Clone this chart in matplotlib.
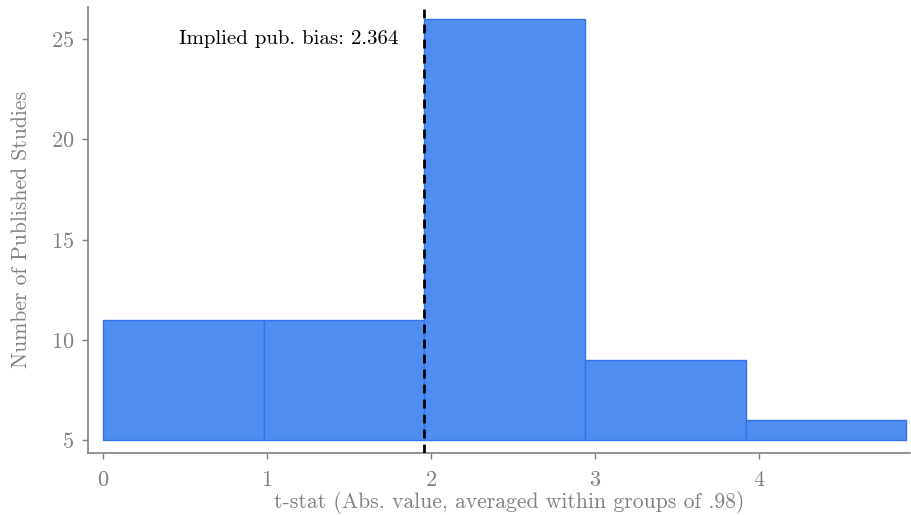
import matplotlib
matplotlib.use("Agg")
import matplotlib.pyplot as plt
import numpy as np

plt.rcParams['font.family'] = 'serif'
plt.rcParams['font.serif'] = ['cmr10', 'DejaVu Serif']
plt.rcParams['axes.formatter.use_mathtext'] = True
plt.rcParams['mathtext.fontset'] = 'cm'

bin_width = 0.98
bin_starts = [0.0, 0.98, 1.96, 2.94, 3.92]
counts = [11, 11, 26, 9, 6]
base = 5
threshold = 1.96
annotation = "Implied pub. bias: 2.364"
xlabel = "t-stat (Abs. value, averaged within groups of .98)"
ylabel = "Number of Published Studies"
xticks = [0, 1, 2, 3, 4]
yticks = [5, 10, 15, 20, 25]

gray = '#808080'
fig = plt.figure(figsize=(9.11, 5.15), dpi=100)
ax = fig.add_axes([0.0966, 0.121, 0.902, 0.865])

heights = [c - base for c in counts]
ax.bar(bin_starts, heights, width=bin_width, bottom=base, align='edge',
       color='#4f8ef0', edgecolor='#2f74ee', linewidth=1.0, zorder=2)

ax.axvline(threshold, color='black', linestyle=(0, (3.2, 2.2)), linewidth=2.0, zorder=3)
ax.text(1.80, 25, annotation, ha='right', va='center', fontsize=15, color='black')

ax.set_xlim(-0.09, 4.92)
ax.set_ylim(4.37, 26.6)
ax.set_xticks(xticks)
ax.set_yticks(yticks)
ax.set_xlabel(xlabel, fontsize=15.6, color=gray, labelpad=0)
ax.xaxis.set_label_coords(0.513, -0.085)
ax.set_ylabel(ylabel, fontsize=15.5, color=gray, labelpad=14)

for s in ['top', 'right']:
    ax.spines[s].set_visible(False)
for s in ['left', 'bottom']:
    ax.spines[s].set_color(gray)
    ax.spines[s].set_linewidth(1.2)
ax.tick_params(axis='both', colors=gray, labelsize=16, length=4, width=1.0)
ax.tick_params(axis='x', pad=9)
ax.tick_params(axis='y', pad=6)

fig.savefig('out.png', dpi=100)
